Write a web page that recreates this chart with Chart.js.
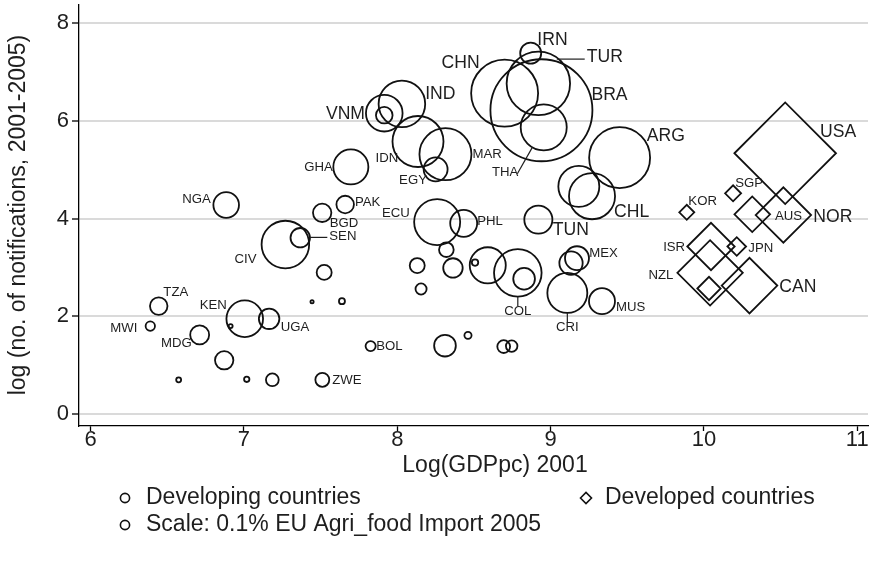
<!DOCTYPE html>
<html>
<head>
<meta charset="utf-8">
<title>Notifications vs GDP per capita</title>
<script src="https://cdn.jsdelivr.net/npm/chart.js@4.4.1/dist/chart.umd.min.js"></script>
<style>
  html, body { margin: 0; padding: 0; background: #fff; }
  #wrap { width: 870px; height: 571px; }
</style>
</head>
<body>
<div id="wrap"><canvas id="chart" width="870" height="571"></canvas></div>
<script>
// ---------- data ----------
const xTicks = [6, 7, 8, 9, 10, 11];
const yTicks = [0, 2, 4, 6, 8];

// developing countries: log GDP pc 2001, log notifications, share of EU agri-food imports 2005 (%)
const devCodes = ['CHN', 'IRN', 'TUR', 'BRA', 'THA', 'IND', 'VNM', '', 'IDN', 'MAR',
  'EGY', 'GHA', 'ARG', '', 'CHL', 'TUN', 'PAK', 'BGD', 'NGA', 'CIV',
  'SEN', 'ECU', 'PHL', '', '', '', '', '', '', 'COL',
  '', 'CRI', 'MEX', '', 'MUS', 'BOL', '', '', '', '',
  '', '', '', 'TZA', 'MWI', 'MDG', 'KEN', '', 'UGA', '',
  '', '', '', 'ZWE'];
const devGdp = [8.70, 8.87, 8.92, 8.94, 8.955, 8.03, 7.915, 7.915, 8.135, 8.314,
  8.25, 7.697, 9.45, 9.184, 9.27, 8.92, 7.66, 7.51, 6.884, 7.27,
  7.367, 8.26, 8.433, 8.32, 8.13, 8.363, 8.155, 8.59, 8.507, 8.786,
  8.827, 9.109, 9.172, 9.133, 9.335, 7.826, 8.311, 8.461, 8.694, 8.746,
  7.523, 7.444, 7.639, 6.444, 6.389, 6.711, 7.005, 6.913, 7.164, 6.871,
  6.574, 7.018, 7.185, 7.511];
const devNotif = [6.57, 7.39, 6.77, 6.22, 5.87, 6.35, 6.16, 6.12, 5.58, 5.32,
  5.01, 5.06, 5.25, 4.66, 4.46, 3.98, 4.29, 4.12, 4.28, 3.47,
  3.61, 3.93, 3.905, 3.365, 3.04, 2.99, 2.56, 3.045, 3.10, 2.89,
  2.77, 2.48, 3.19, 3.09, 2.31, 1.39, 1.40, 1.61, 1.38, 1.39,
  2.90, 2.30, 2.31, 2.21, 1.80, 1.62, 1.95, 1.80, 1.95, 1.10,
  0.70, 0.71, 0.70, 0.70];
const devShare = [4.38, 0.43, 3.93, 10.16, 2.07, 2.12, 1.31, 0.27, 2.54, 2.64,
  0.56, 1.20, 3.63, 1.64, 2.07, 0.77, 0.30, 0.33, 0.64, 2.21,
  0.37, 2.07, 0.71, 0.21, 0.22, 0.37, 0.12, 1.27, 0.04, 2.21,
  0.46, 1.56, 0.56, 0.53, 0.66, 0.10, 0.46, 0.05, 0.16, 0.13,
  0.22, 0.01, 0.035, 0.30, 0.086, 0.35, 1.31, 0.016, 0.41, 0.33,
  0.024, 0.028, 0.16, 0.19];

// developed countries
const dvdCodes = ['USA', 'SGP', 'KOR', 'AUS', 'NOR', 'ISR', 'JPN', 'NZL', '', 'CAN'];
const dvdGdp = [10.53, 10.19, 9.888, 10.315, 10.518, 10.046, 10.214, 10.04, 10.033, 10.297];
const dvdNotif = [5.34, 4.52, 4.13, 4.09, 4.075, 3.43, 3.43, 2.89, 2.57, 2.63];
const dvdShare = [10.08, 0.25, 0.22, 1.24, 3.00, 2.19, 0.34, 4.18, 0.53, 3.02];

const xTitle = 'Log(GDPpc) 2001';
const yTitle = 'log (no. of notifications, 2001-2005)';
const legendTexts = ['Developing countries', 'Developed countries', 'Scale: 0.1% EU Agri_food Import 2005'];

// ---------- label placement (clock angle in degrees, gap in px) ----------
const labelPlace = {
  CHN: [320.7, 5.9], IRN: [27, 4.1], TUR: [61.9, 23.1], BRA: [73.3, 1.2], THA: [209.6, 28.4],
  IND: [68, 1.8], VNM: [265.9, 1.0], IDN: [229.5, 0.4], MAR: [90, 1], EGY: [218.3, 2],
  GHA: [270, 0.5], ARG: [52.2, 3.9], CHL: [125.5, 4], TUN: [125.6, 3.7], PAK: [80, 1.2],
  BGD: [144.5, 3.7], NGA: [291.2, 3.8], CIV: [242.5, 8.7], SEN: [86.4, 19.4], ECU: [288.1, 5.7],
  PHL: [80.4, 0.3], TZA: [18.6, 5.8], KEN: [306.7, 4.1], UGA: [126.5, 4.1], MWI: [259.1, 8.5],
  MDG: [222.3, 2.4], ZWE: [94.6, 3], BOL: [95.7, 0.5], COL: [180, 7.7], CRI: [180, 7.7],
  MEX: [70, 1.1], MUS: [113.9, 2.3],
  USA: [58.8, 3.7], SGP: [12, 3.5], KOR: [8.7, 4], AUS: [94.8, 6.4], NOR: [93.8, 4],
  CAN: [93.8, 3.8], ISR: [269, 2.6], JPN: [98.3, 3.5], NZL: [266.4, 6]
};
const bigLabels = ['CHN', 'IRN', 'TUR', 'BRA', 'IND', 'VNM', 'ARG', 'CHL', 'TUN', 'USA', 'NOR', 'CAN'];
const leaders = { TUR: 'h', SEN: 'h', THA: 'r', COL: 'r', CRI: 'r' };

const FONT = '"Liberation Sans", Arial, Helvetica, sans-serif';
const INK = '#1e1e1e';

// marker area proportional to import share
function bubbleRadius(share) {
  return 16 * Math.sqrt(share);
}

function toPoints(gdp, notif, share) {
  return gdp.map((g, i) => ({ x: g, y: notif[i], r: bubbleRadius(share[i]) }));
}

// draw the country codes next to their markers
const countryLabels = {
  id: 'countryLabels',
  afterDatasetsDraw(chart) {
    const ctx = chart.ctx;
    const sets = [
      { meta: chart.getDatasetMeta(0), codes: devCodes, share: devShare, shape: 'circle' },
      { meta: chart.getDatasetMeta(1), codes: dvdCodes, share: dvdShare, shape: 'diamond' }
    ];
    ctx.save();
    ctx.fillStyle = INK;
    ctx.strokeStyle = INK;
    ctx.lineWidth = 1.2;
    sets.forEach(set => {
      set.meta.data.forEach((el, i) => {
        const code = set.codes[i];
        if (!code || !labelPlace[code]) return;
        const r = bubbleRadius(set.share[i]);
        const [deg, gap] = labelPlace[code];
        const t = deg * Math.PI / 180;
        const ux = Math.sin(t), uy = -Math.cos(t);
        const edge = set.shape === 'diamond' ? r / (Math.abs(ux) + Math.abs(uy)) : r;
        const ax = el.x + ux * (edge + gap);
        const ay = el.y + uy * (edge + gap);

        ctx.font = (bigLabels.includes(code) ? 17.6 : 13.2) + 'px ' + FONT;
        if (Math.abs(ux) < 0.1) {
          ctx.textAlign = 'center';
          ctx.textBaseline = uy > 0 ? 'top' : 'bottom';
        } else {
          ctx.textAlign = ux > 0 ? 'left' : 'right';
          ctx.textBaseline = 'middle';
        }

        const lead = leaders[code];
        if (lead === 'h') {
          const dy = ay - el.y;
          const dx = Math.sqrt(Math.max(r * r - dy * dy, 0));
          const s = ux > 0 ? 1 : -1;
          ctx.beginPath();
          ctx.moveTo(el.x + s * dx, ay + 1.5);
          ctx.lineTo(ax - s * 2, ay + 1.5);
          ctx.stroke();
        } else if (lead === 'r') {
          ctx.beginPath();
          ctx.moveTo(el.x + ux * edge, el.y + uy * edge);
          ctx.lineTo(el.x + ux * (edge + gap + 2), el.y + uy * (edge + gap + 2));
          ctx.stroke();
        }
        ctx.fillText(code, ax, ay);
      });
    });
    ctx.restore();
  }
};

// axis titles and the legend below the plot
const chartText = {
  id: 'chartText',
  afterDraw(chart) {
    const ctx = chart.ctx;
    ctx.save();
    ctx.fillStyle = INK;
    ctx.strokeStyle = '#111';
    ctx.font = '23px ' + FONT;
    ctx.textBaseline = 'middle';

    ctx.textAlign = 'center';
    ctx.fillText(xTitle, 495, 466);

    ctx.save();
    ctx.translate(19, 215);
    ctx.rotate(-Math.PI / 2);
    ctx.fillText(yTitle, 0, 0);
    ctx.restore();

    // legend
    ctx.textAlign = 'left';
    ctx.lineWidth = 1.6;
    const row1 = 498, row2 = 525;

    ctx.beginPath();
    ctx.arc(125, row1, 4.6, 0, Math.PI * 2);
    ctx.stroke();
    ctx.fillText(legendTexts[0], 146, row1);

    ctx.beginPath();
    ctx.moveTo(586 - 5.5, row1);
    ctx.lineTo(586, row1 - 5.5);
    ctx.lineTo(586 + 5.5, row1);
    ctx.lineTo(586, row1 + 5.5);
    ctx.closePath();
    ctx.stroke();
    ctx.fillText(legendTexts[1], 605, row1);

    ctx.beginPath();
    ctx.arc(125, row2, 4.6, 0, Math.PI * 2);
    ctx.stroke();
    ctx.fillText(legendTexts[2], 146, row2);

    ctx.restore();
  }
};

const tickFont = { family: FONT, size: 22, lineHeight: 1 };

new Chart(document.getElementById('chart').getContext('2d'), {
  type: 'bubble',
  data: {
    datasets: [
      {
        label: legendTexts[0],
        data: toPoints(devGdp, devNotif, devShare),
        pointStyle: 'circle',
        borderColor: '#111',
        borderWidth: 1.8,
        backgroundColor: 'rgba(0,0,0,0)'
      },
      {
        label: legendTexts[1],
        data: toPoints(dvdGdp, dvdNotif, dvdShare),
        pointStyle: 'rectRot',
        borderColor: '#111',
        borderWidth: 1.8,
        backgroundColor: 'rgba(0,0,0,0)'
      }
    ]
  },
  options: {
    responsive: false,
    animation: false,
    devicePixelRatio: 1,
    events: [],
    layout: { autoPadding: false, padding: { left: 0, right: 2, top: 5, bottom: 0 } },
    plugins: {
      legend: { display: false },
      tooltip: { enabled: false }
    },
    scales: {
      x: {
        type: 'linear',
        min: 5.924,
        max: 11.07,
        afterBuildTicks: s => { s.ticks = xTicks.map(v => ({ value: v })); },
        afterFit: s => { s.height = 145; s.paddingLeft = 0; s.paddingRight = 0; },
        border: { display: true, color: '#000', width: 1.3 },
        grid: { drawOnChartArea: false, drawTicks: true, tickLength: 5, tickColor: '#000', tickWidth: 1.3 },
        ticks: { color: INK, font: tickFont, padding: -2, maxRotation: 0, autoSkip: false }
      },
      y: {
        type: 'linear',
        min: -0.246,
        max: 8.376,
        afterBuildTicks: s => { s.ticks = yTicks.map(v => ({ value: v })); },
        afterFit: s => { s.width = 79; s.paddingTop = 0; s.paddingBottom = 0; },
        border: { display: true, color: '#000', width: 1.3 },
        grid: { color: '#dadada', lineWidth: 2, drawTicks: true, tickLength: 7, tickColor: '#000', tickWidth: 1.3 },
        ticks: { color: INK, font: tickFont, padding: 3 }
      }
    }
  },
  plugins: [countryLabels, chartText]
});
</script>
</body>
</html>
